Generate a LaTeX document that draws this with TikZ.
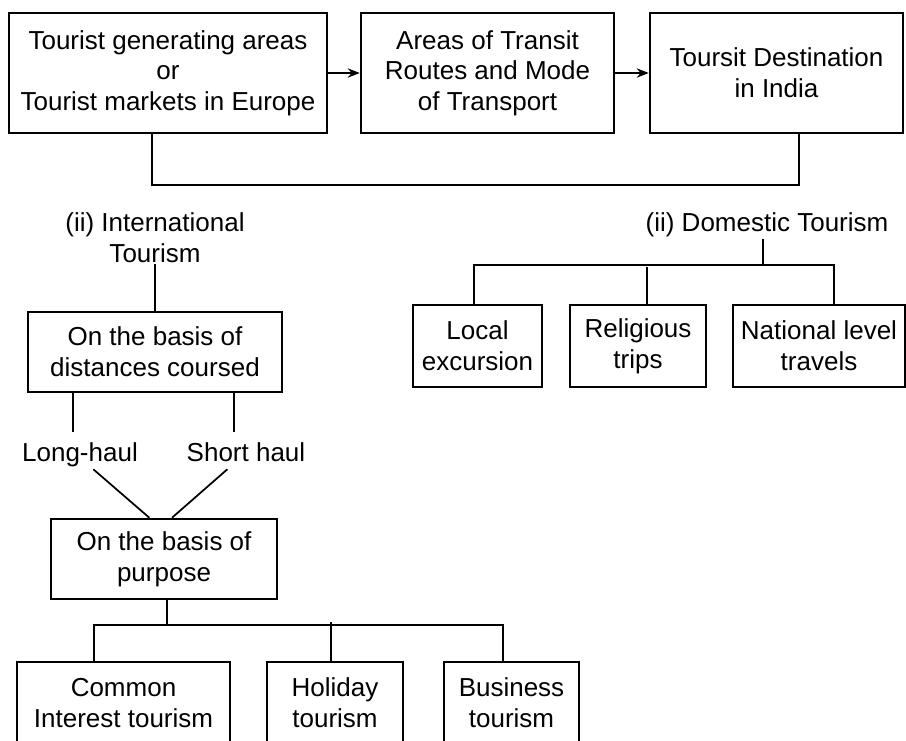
\documentclass[tikz,border=0pt]{standalone}
\usepackage{fontspec}
\setmainfont{Liberation Sans}
\usetikzlibrary{arrows.meta}
\begin{document}
\begin{tikzpicture}[x=0.75pt,y=-0.75pt,
  every node/.append style={font=\fontsize{19.5}{23}\selectfont},
  box/.style={draw,line width=1.9pt,align=center,inner sep=2pt,minimum height=61.5pt},
  lbl/.style={align=center,inner sep=1pt},
  conn/.style={line width=1.3pt}]
\fill[white] (0,0) rectangle (906,740);
\path[use as bounding box] (0,0) rectangle (906,740);
\clip (0,0) rectangle (906,740);
\node[box,minimum width=238.5pt,minimum height=90pt] (gen) at (168,73) {Tourist generating areas\\or\\Tourist markets in Europe};
\node[box,minimum width=189.75pt,minimum height=90pt] (transit) at (487.5,73) {Areas of Transit\\Routes and Mode\\of Transport};
\node[box,minimum width=189.75pt,minimum height=90pt] (dest) at (776.5,73) {Toursit Destination\\in India};
\draw[conn,-{Stealth[length=9pt,width=7pt]}] (gen) -- (transit);
\draw[conn,-{Stealth[length=9pt,width=7pt]}] (transit) -- (dest);
\draw[conn] ([xshift=-12pt]gen.south) -- ++(0,51) -| ([xshift=17pt]dest.south);
\node[lbl] (intl) at (155,238) {(ii) International\\Tourism};
\node[box,minimum width=190.5pt,minimum height=60pt] (dist) at (155,352) {On the basis of\\distances coursed};
\draw[conn] (intl) -- (dist);
\node[lbl,text height=14.5pt,text depth=4.5pt] (long) at (80,455) {Long-haul};
\node[lbl,text height=14.5pt,text depth=4.5pt] (short) at (246,455) {Short haul};
\coordinate (ltop) at (73,432);
\coordinate (stop) at (234,432);
\draw[conn] (dist.south -| ltop) -- (ltop);
\draw[conn] (dist.south -| stop) -- (stop);
\node[box,minimum width=169.5pt,minimum height=60pt] (purpose) at (164,559) {On the basis of\\purpose};
\draw[conn] ([xshift=10pt]long.south) -- ([xshift=-11pt]purpose.north);
\draw[conn] ([xshift=-14pt]short.south) -- ([xshift=6pt]purpose.north);
\node[box,minimum width=159.75pt] (common) at (123.5,703) {Common\\Interest tourism};
\node[box,minimum width=102pt] (holiday) at (335,703) {Holiday\\tourism};
\node[box,minimum width=101.25pt] (business) at (511.5,703) {Business\\tourism};
\draw[conn] ([xshift=2.25pt]purpose.south) -- ++(0,25) coordinate (pbar);
\draw[conn] ([xshift=-22pt]common.north) |- (pbar) -| ([xshift=-6.4pt]business.north);
\draw[conn] ([xshift=-3pt]holiday.north) -- ++(0,-39);
\node[lbl] (dom) at (767,225) {(ii) Domestic Tourism};
\node[box,minimum width=96.75pt] (local) at (477.5,346) {Local\\excursion};
\node[box,minimum width=102pt] (religious) at (638,346) {Religious\\trips};
\node[box,minimum width=129pt] (national) at (819,346) {National level\\travels};
\draw[conn] ([xshift=-3pt]dom.south) -- ++(0,26) coordinate (dbar);
\draw[conn] ([xshift=-2.6pt]local.north) |- (dbar) -| ([xshift=11.25pt]national.north);
\draw[conn] ([xshift=6.75pt]religious.north) -- ++(0,-37);
\end{tikzpicture}
\end{document}
